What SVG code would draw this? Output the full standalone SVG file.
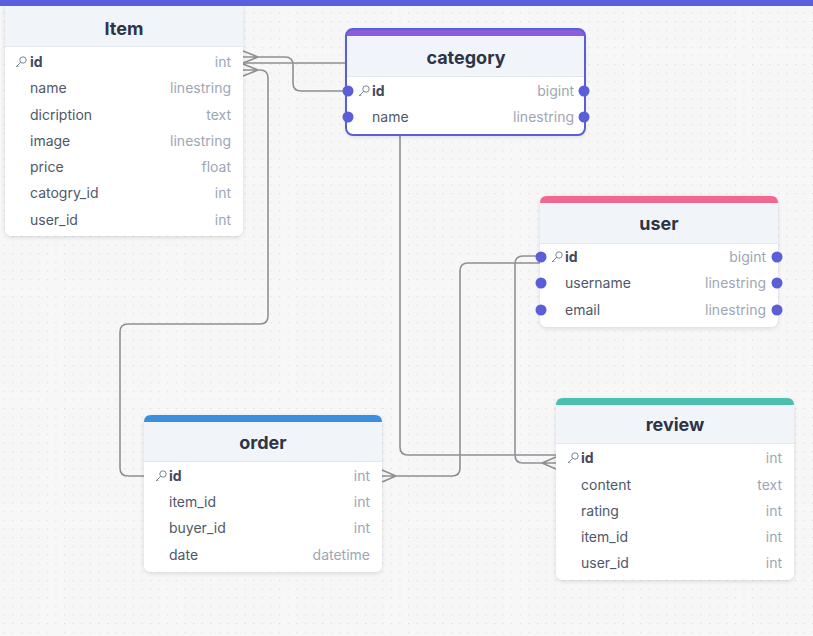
<svg xmlns="http://www.w3.org/2000/svg" width="813" height="636" viewBox="0 0 813 636">
<defs>
  <pattern id="dots" x="0" y="0" width="8.6" height="8.6" patternUnits="userSpaceOnUse">
    <rect x="3.8" y="3.8" width="1.1" height="1.1" fill="#d6d7dc"/>
  </pattern>
  <filter id="sh" x="-10%" y="-10%" width="120%" height="130%">
    <feDropShadow dx="0" dy="1.5" stdDeviation="2" flood-color="#000" flood-opacity="0.12"/>
  </filter>
  <symbol id="key" viewBox="0 0 12 12" overflow="visible">
    <circle cx="8" cy="4" r="3.2" fill="none" stroke="#7b8494" stroke-width="1"/>
    <path d="M5.7 6.3 L1 11 M2.2 9.8 L3.4 11" fill="none" stroke="#7b8494" stroke-width="1"/>
  </symbol>
</defs>
<style>
  .box{fill:#ffffff;}
  .hdr{fill:#f1f4f9;}
  .sep{stroke:#e3e7ee;stroke-width:1;}
  .title{font-family:Inter,"Liberation Sans",sans-serif;font-size:18px;font-weight:700;fill:#2d3446;text-anchor:middle;}
  .fn{font-family:Inter,"Liberation Sans",sans-serif;font-size:14px;fill:#4f5868;}
  .pk{font-weight:700;fill:#434b5c;}
  .ty{font-family:Inter,"Liberation Sans",sans-serif;font-size:14px;fill:#9ea6b6;text-anchor:end;}
  .dot{fill:#5a5fd8;}
  .conn path{fill:none;stroke:#8f9092;stroke-width:1.6;}
</style>
<rect width="813" height="636" fill="#f7f7f8"/>
<rect width="813" height="636" fill="url(#dots)"/>

<g id="connectors" class="conn">
  <path d="M243,63 H392 Q400,63 400,71 V447 Q400,455 408,455 H556"/>
  <path d="M243,51 L258,57 M243,57 H258 M243,63 L258,57 M258,57 H285 Q293,57 293,65 V83 Q293,91 301,91 H348"/>
  <path d="M243,64 L258,70 M243,70 H258 M243,76 L258,70 M258,70 H260 Q268,70 268,78 V316 Q268,324 260,324 H128 Q120,324 120,332 V468 Q120,476 128,476 H144"/>
  <path d="M382,470 L396,476 M382,476 H396 M382,482 L396,476 M396,476 H452 Q460,476 460,468 V271 Q460,263 468,263 H540"/>
  <path d="M556,457 L542,463 M556,463 H542 M556,469 L542,463 M542,463 H523 Q515,463 515,455 V264 Q515,256 523,256 H540"/>
</g>

<g id="node-item">
  <rect class="box" x="5" y="0" width="238" height="236" rx="7" filter="url(#sh)"/>
  <path class="hdr" d="M5,7 Q5,0 12,0 H236 Q243,0 243,7 V46 H5 Z"/>
  <line class="sep" x1="5" y1="46.5" x2="243" y2="46.5"/>
  <text class="title" x="124" y="35">Item</text>
  <use href="#key" x="15" y="56" width="12" height="12"/>
  <text class="fn pk" x="30" y="67">id</text><text class="ty" x="231" y="67">int</text>
  <text class="fn" x="30" y="93">name</text><text class="ty" x="231" y="93">linestring</text>
  <text class="fn" x="30" y="120">dicription</text><text class="ty" x="231" y="120">text</text>
  <text class="fn" x="30" y="146">image</text><text class="ty" x="231" y="146">linestring</text>
  <text class="fn" x="30" y="172">price</text><text class="ty" x="231" y="172">float</text>
  <text class="fn" x="30" y="198">catogry_id</text><text class="ty" x="231" y="198">int</text>
  <text class="fn" x="30" y="225">user_id</text><text class="ty" x="231" y="225">int</text>
</g>

<rect x="0" y="0" width="813" height="6" fill="#5a5fe0"/>

<g id="node-category">
  <rect class="box" x="346" y="29" width="239" height="106" rx="7" filter="url(#sh)"/>
  <path class="hdr" d="M346,36 Q346,29 353,29 H578 Q585,29 585,36 V76 H346 Z"/>
  <path d="M346,36 Q346,29 353,29 H578 Q585,29 585,36 Z" fill="#8d5de0"/>
  <line class="sep" x1="346" y1="76.5" x2="585" y2="76.5"/>
  <rect x="346" y="29" width="239" height="106" rx="7" fill="none" stroke="#5a5fd8" stroke-width="2"/>
  <text class="title" x="466" y="64">category</text>
  <use href="#key" x="358" y="85" width="12" height="12"/>
  <text class="fn pk" x="372" y="96">id</text><text class="ty" x="574" y="96">bigint</text>
  <text class="fn" x="372" y="122">name</text><text class="ty" x="574" y="122">linestring</text>
  <circle class="dot" cx="348" cy="91" r="5.5"/><circle class="dot" cx="584" cy="91" r="5.5"/>
  <circle class="dot" cx="348" cy="117" r="5.5"/><circle class="dot" cx="584" cy="117" r="5.5"/>
</g>

<g id="node-user">
  <rect class="box" x="540" y="196" width="238" height="131" rx="7" filter="url(#sh)"/>
  <path class="hdr" d="M540,203 Q540,196 547,196 H771 Q778,196 778,203 V243 H540 Z"/>
  <path d="M540,203 Q540,196 547,196 H771 Q778,196 778,203 Z" fill="#f0678f"/>
  <line class="sep" x1="540" y1="243.5" x2="778" y2="243.5"/>
  <text class="title" x="659" y="230">user</text>
  <use href="#key" x="551" y="251" width="12" height="12"/>
  <text class="fn pk" x="565" y="262">id</text><text class="ty" x="766" y="262">bigint</text>
  <text class="fn" x="565" y="288">username</text><text class="ty" x="766" y="288">linestring</text>
  <text class="fn" x="565" y="315">email</text><text class="ty" x="766" y="315">linestring</text>
  <circle class="dot" cx="541" cy="257" r="5.5"/><circle class="dot" cx="777" cy="257" r="5.5"/>
  <circle class="dot" cx="541" cy="283" r="5.5"/><circle class="dot" cx="777" cy="283" r="5.5"/>
  <circle class="dot" cx="541" cy="310" r="5.5"/><circle class="dot" cx="777" cy="310" r="5.5"/>
</g>

<g id="node-order">
  <rect class="box" x="144" y="415" width="238" height="157" rx="7" filter="url(#sh)"/>
  <path class="hdr" d="M144,422 Q144,415 151,415 H375 Q382,415 382,422 V461 H144 Z"/>
  <path d="M144,422 Q144,415 151,415 H375 Q382,415 382,422 Z" fill="#3a8fdf"/>
  <line class="sep" x1="144" y1="461.5" x2="382" y2="461.5"/>
  <text class="title" x="263" y="449">order</text>
  <use href="#key" x="155" y="470" width="12" height="12"/>
  <text class="fn pk" x="169" y="481">id</text><text class="ty" x="370" y="481">int</text>
  <text class="fn" x="169" y="507">item_id</text><text class="ty" x="370" y="507">int</text>
  <text class="fn" x="169" y="533">buyer_id</text><text class="ty" x="370" y="533">int</text>
  <text class="fn" x="169" y="560">date</text><text class="ty" x="370" y="560">datetime</text>
</g>

<g id="node-review">
  <rect class="box" x="556" y="398" width="238" height="182" rx="7" filter="url(#sh)"/>
  <path class="hdr" d="M556,405 Q556,398 563,398 H787 Q794,398 794,405 V443 H556 Z"/>
  <path d="M556,405 Q556,398 563,398 H787 Q794,398 794,405 Z" fill="#4cbfae"/>
  <line class="sep" x1="556" y1="443.5" x2="794" y2="443.5"/>
  <text class="title" x="675" y="431">review</text>
  <use href="#key" x="567" y="452" width="12" height="12"/>
  <text class="fn pk" x="581" y="463">id</text><text class="ty" x="782" y="463">int</text>
  <text class="fn" x="581" y="490">content</text><text class="ty" x="782" y="490">text</text>
  <text class="fn" x="581" y="516">rating</text><text class="ty" x="782" y="516">int</text>
  <text class="fn" x="581" y="542">item_id</text><text class="ty" x="782" y="542">int</text>
  <text class="fn" x="581" y="568">user_id</text><text class="ty" x="782" y="568">int</text>
</g>
</svg>
